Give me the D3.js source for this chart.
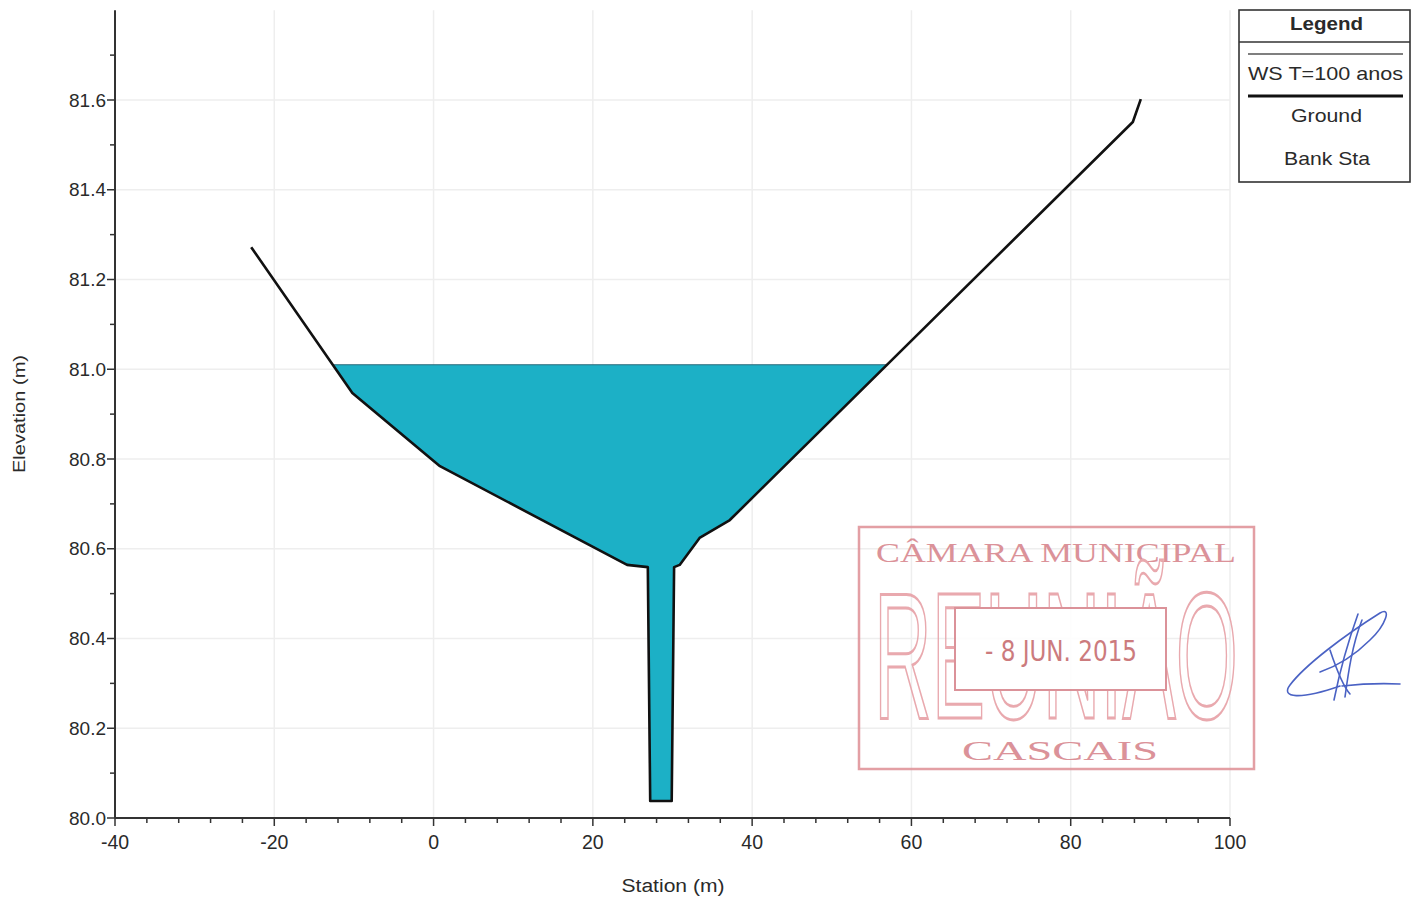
<!DOCTYPE html>
<html>
<head>
<meta charset="utf-8">
<script src="https://cdn.jsdelivr.net/npm/d3@7"></script>
<style>
  html, body { margin: 0; padding: 0; background: #ffffff; }
  svg { display: block; }
</style>
</head>
<body>
<svg id="chart" width="1420" height="899" font-family="Liberation Sans, Arial, sans-serif"></svg>
<script>
// ---- Data ----
const station   = [-22.9, -10.2, 0.8, 24.3, 26.9, 27.2, 29.9, 30.2, 30.9, 33.4, 37.2, 87.8, 88.8];
const elevation = [81.272, 80.947, 80.784, 80.564, 80.559, 80.038, 80.038, 80.559, 80.564, 80.624, 80.664, 81.551, 81.602];
const wsElevation = 81.01;
const xTicks = [-40, -20, 0, 20, 40, 60, 80, 100];
const yTicks = [80.0, 80.2, 80.4, 80.6, 80.8, 81.0, 81.2, 81.4, 81.6];
const legendItems = ["WS T=100 anos", "Ground", "Bank Sta"];

const svg = d3.select("#chart");
const x = d3.scaleLinear().domain([-40, 100]).range([115, 1230]);
const y = d3.scaleLinear().domain([80.0, 81.8]).range([818, 10.25]);

const ground = station.map((s, i) => ({ s, e: elevation[i] }));

// gridlines
const grid = svg.append("g");
grid.selectAll("line.v").data(xTicks.filter(t => t > -40)).join("line")
  .attr("x1", d => x(d)).attr("x2", d => x(d)).attr("y1", y(81.8)).attr("y2", y(80))
  .attr("stroke", "#eeeeee").attr("stroke-width", 1.5);
grid.selectAll("line.h").data(yTicks.filter(t => t > 80)).join("line")
  .attr("x1", x(-40)).attr("x2", x(100)).attr("y1", d => y(d)).attr("y2", d => y(d))
  .attr("stroke", "#eeeeee").attr("stroke-width", 1.5);

// water polygon: from ground crossing to ground crossing
function crossing(a, b, level) {
  const t = (level - a.e) / (b.e - a.e);
  return { s: a.s + t * (b.s - a.s), e: level };
}
const water = [];
for (let i = 0; i < ground.length - 1; i++) {
  const a = ground[i], b = ground[i + 1];
  if (a.e >= wsElevation && b.e < wsElevation) water.push(crossing(a, b, wsElevation));
  if (b.e < wsElevation) water.push(b);
  if (a.e < wsElevation && b.e >= wsElevation) water.push(crossing(a, b, wsElevation));
}
const line = d3.line().x(d => x(d.s)).y(d => y(d.e));
svg.append("path").attr("d", line(water) + "Z")
  .attr("fill", "#1cb0c6").attr("stroke", "none");
svg.append("line")
  .attr("x1", x(water[0].s)).attr("x2", x(water[water.length - 1].s))
  .attr("y1", y(wsElevation)).attr("y2", y(wsElevation))
  .attr("stroke", "#2a6a7a").attr("stroke-width", 1.2);

// ground line
svg.append("path").attr("d", line(ground))
  .attr("fill", "none").attr("stroke", "#111").attr("stroke-width", 2.6)
  .attr("stroke-linejoin", "round");

// axes
const axisColor = "#333";
const textColor = "#2a2a2a";
const xAxis = svg.append("g");
xAxis.append("line").attr("x1", x(-40)).attr("x2", x(100)).attr("y1", 818).attr("y2", 818)
  .attr("stroke", axisColor).attr("stroke-width", 2);
const xMinor = d3.range(-40, 100.01, 4);
xAxis.selectAll("line.mt").data(xMinor).join("line")
  .attr("x1", d => x(d)).attr("x2", d => x(d)).attr("y1", 818)
  .attr("y2", d => (d % 20 === 0 ? 826 : 823))
  .attr("stroke", axisColor).attr("stroke-width", 1.5);
xAxis.selectAll("text").data(xTicks).join("text")
  .attr("x", d => x(d)).attr("y", 849).attr("text-anchor", "middle")
  .attr("font-size", 19.5).attr("fill", textColor).text(d => String(d));

const yAxis = svg.append("g");
yAxis.append("line").attr("x1", 115).attr("x2", 115).attr("y1", y(81.8)).attr("y2", 818)
  .attr("stroke", axisColor).attr("stroke-width", 2);
const yMinor = d3.range(0, 18).map(i => 80 + i * 0.1);
yAxis.selectAll("line.mt").data(yMinor).join("line")
  .attr("x1", (d, i) => (i % 2 === 0 ? 107 : 110)).attr("x2", 115)
  .attr("y1", d => y(d)).attr("y2", d => y(d))
  .attr("stroke", axisColor).attr("stroke-width", 1.5);
yAxis.selectAll("text").data(yTicks).join("text")
  .attr("x", 106).attr("y", d => y(d) + 6.5).attr("text-anchor", "end")
  .attr("font-size", 19).attr("fill", textColor).text(d => d3.format(".1f")(d));

svg.append("text").attr("x", 673).attr("y", 892).attr("text-anchor", "middle")
  .attr("font-size", 18).attr("fill", textColor).attr("textLength", 103).attr("lengthAdjust", "spacingAndGlyphs")
  .text("Station (m)");
svg.append("text").attr("transform", "translate(25,414) rotate(-90)").attr("text-anchor", "middle")
  .attr("font-size", 17).attr("fill", textColor).attr("textLength", 118).attr("lengthAdjust", "spacingAndGlyphs")
  .text("Elevation (m)");

// legend
const lg = svg.append("g");
lg.append("rect").attr("x", 1239).attr("y", 10).attr("width", 171).attr("height", 172)
  .attr("fill", "#fff").attr("stroke", "#333").attr("stroke-width", 1.6);
lg.append("text").attr("x", 1290).attr("y", 30)
  .attr("font-size", 19).attr("font-weight", "bold").attr("fill", textColor)
  .attr("textLength", 73).attr("lengthAdjust", "spacingAndGlyphs").text("Legend");
lg.append("line").attr("x1", 1239).attr("x2", 1410).attr("y1", 42).attr("y2", 42)
  .attr("stroke", "#333").attr("stroke-width", 1.6);
lg.append("line").attr("x1", 1248).attr("x2", 1403).attr("y1", 54).attr("y2", 54)
  .attr("stroke", "#555").attr("stroke-width", 1.4);
lg.append("line").attr("x1", 1248).attr("x2", 1403).attr("y1", 96).attr("y2", 96)
  .attr("stroke", "#111").attr("stroke-width", 2.8);
const legX = [1248, 1291, 1284];
const legW = [155, 71, 86];
const legY = [80, 122, 165];
lg.selectAll("text.item").data(legendItems).join("text")
  .attr("x", (d, i) => legX[i]).attr("y", (d, i) => legY[i])
  .attr("font-size", 19).attr("fill", textColor)
  .attr("textLength", (d, i) => legW[i]).attr("lengthAdjust", "spacingAndGlyphs")
  .text(d => d);

// municipal stamp (annotation on the scanned page)
const st = svg.append("g").attr("opacity", 0.9);
const stampColor = "#e0959b";
st.append("rect").attr("x", 859).attr("y", 527).attr("width", 395).attr("height", 242)
  .attr("fill", "none").attr("stroke", stampColor).attr("stroke-width", 2.5);
st.append("text").attr("x", 876).attr("y", 562).attr("font-family", "Liberation Serif, DejaVu Serif, serif")
  .attr("font-size", 27).attr("fill", "#d8878e").attr("textLength", 360).attr("lengthAdjust", "spacingAndGlyphs")
  .text("CÂMARA MUNICIPAL");
st.append("text").attr("transform", "translate(874,718) scale(1,2.8)")
  .attr("font-size", 64).attr("fill", "none").attr("stroke", "#e7a0a6").attr("stroke-width", 2.2)
  .attr("vector-effect", "non-scaling-stroke")
  .attr("textLength", 364).attr("lengthAdjust", "spacingAndGlyphs").text("REUNIÃO");
st.append("rect").attr("x", 955).attr("y", 608).attr("width", 211).attr("height", 82)
  .attr("fill", "#fff").attr("stroke", "#d8878e").attr("stroke-width", 2);
st.append("text").attr("x", 985).attr("y", 661).attr("font-family", "DejaVu Sans Condensed, DejaVu Sans, sans-serif")
  .attr("font-size", 28).attr("fill", "#c76d70").attr("textLength", 152).attr("lengthAdjust", "spacingAndGlyphs")
  .text("- 8 JUN. 2015");
st.append("text").attr("x", 962).attr("y", 760).attr("font-family", "Liberation Serif, DejaVu Serif, serif")
  .attr("font-size", 27).attr("fill", "#d8878e").attr("textLength", 196).attr("lengthAdjust", "spacingAndGlyphs")
  .text("CASCAIS");

// signature
const sig = svg.append("g").attr("fill", "none").attr("stroke", "#4a62c4").attr("stroke-width", 1.6)
  .attr("stroke-linecap", "round");
sig.append("path").attr("d", "M1340,686 C1300,700 1280,698 1290,685 C1305,665 1345,635 1380,613 C1392,606 1386,625 1370,640 C1355,655 1340,665 1320,672");
sig.append("path").attr("d", "M1334,700 C1338,680 1345,650 1358,614");
sig.append("path").attr("d", "M1345,697 C1348,675 1352,645 1362,620");
sig.append("path").attr("d", "M1330,650 C1335,665 1342,685 1350,694");
sig.append("path").attr("d", "M1342,686 C1360,684 1380,683 1400,684");
</script>
</body>
</html>
